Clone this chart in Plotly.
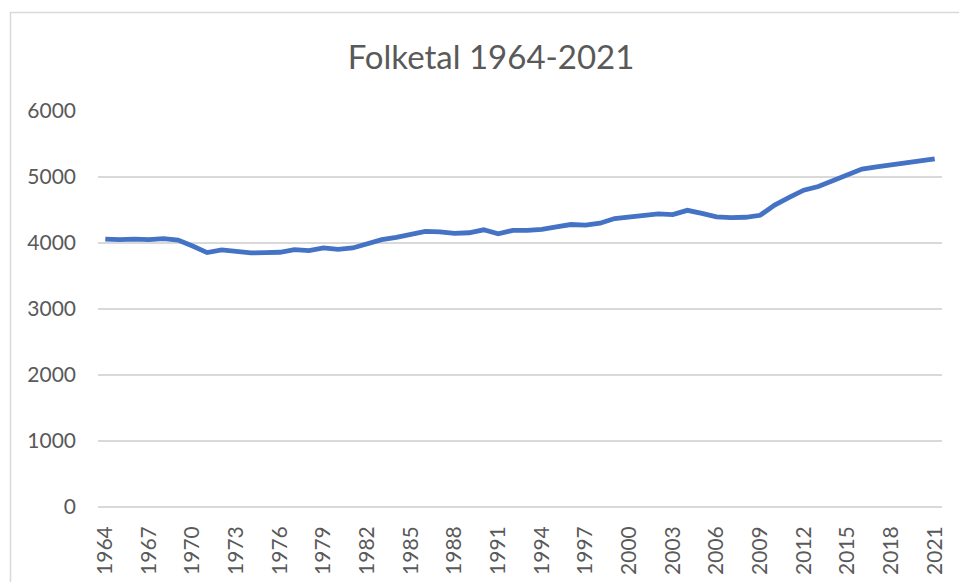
import plotly.graph_objects as go

years = list(range(1964, 2022))
folketal = [4060, 4050, 4060, 4050, 4065, 4045, 3955, 3855, 3895, 3865,
            3850, 3855, 3860, 3900, 3885, 3925, 3905, 3925, 3995, 4050,
            4086, 4130, 4175, 4170, 4145, 4155, 4200, 4140, 4190, 4190,
            4205, 4245, 4280, 4270, 4300, 4370, 4395, 4430, 4440, 4430,
            4495, 4450, 4395, 4385, 4390, 4420, 4575, 4690, 4800, 4855,
            4940, 5025, 5120, 5155, 5185, 5210, 5235, 5275]
x_ticks = list(range(1964, 2022, 3))
y_ticks = [0, 1000, 2000, 3000, 4000, 5000, 6000]

FONT = "Lato, 'Open Sans', sans-serif"
GREY = "#595959"
GRID = "#d9d9d9"

fig = go.Figure()
fig.add_trace(go.Scatter(
    x=years, y=folketal, mode="lines",
    line=dict(color="#4472C4", width=4.8, shape="linear"),
    hoverinfo="x+y", showlegend=False,
))

fig.update_layout(
    width=959, height=582,
    margin=dict(l=98, r=17, t=111, b=75, autoexpand=False),
    paper_bgcolor="white", plot_bgcolor="white",
    title=dict(text="Folketal 1964-2021", x=491/959, xanchor="center",
               xref="container", y=1-57/582, yanchor="middle",
               font=dict(family=FONT, size=33, color=GREY)),
    font=dict(family=FONT, color=GREY),
    xaxis=dict(range=[1963.5, 2021.5], tickmode="array", tickvals=x_ticks,
               ticktext=[str(v) for v in x_ticks], tickangle=-90,
               showgrid=False, zeroline=False, showline=False, ticks="",
               ticklabelstandoff=14, automargin=False,
               tickfont=dict(family=FONT, size=21, color=GREY)),
    yaxis=dict(range=[0, 6000], tickmode="array", tickvals=y_ticks,
               ticktext=[str(v) for v in y_ticks],
               showgrid=True, gridcolor=GRID, gridwidth=1.5,
               zeroline=True, zerolinecolor=GRID, zerolinewidth=1.5,
               showline=False, ticks="", ticklabelstandoff=21, automargin=False,
               tickfont=dict(family=FONT, size=21, color=GREY)),
    shapes=[dict(type="rect", xref="paper", yref="paper",
                 x0=(10.5-98)/844, x1=(975-98)/844,
                 y0=-(600-507)/396, y1=(507-12.5)/396,
                 line=dict(color=GRID, width=1.5), fillcolor="rgba(0,0,0,0)",
                 layer="below")],
)

fig.write_html("out.html", config={"displayModeBar": False},
               post_script="document.body.style.margin='0';document.body.style.overflow='hidden';")
